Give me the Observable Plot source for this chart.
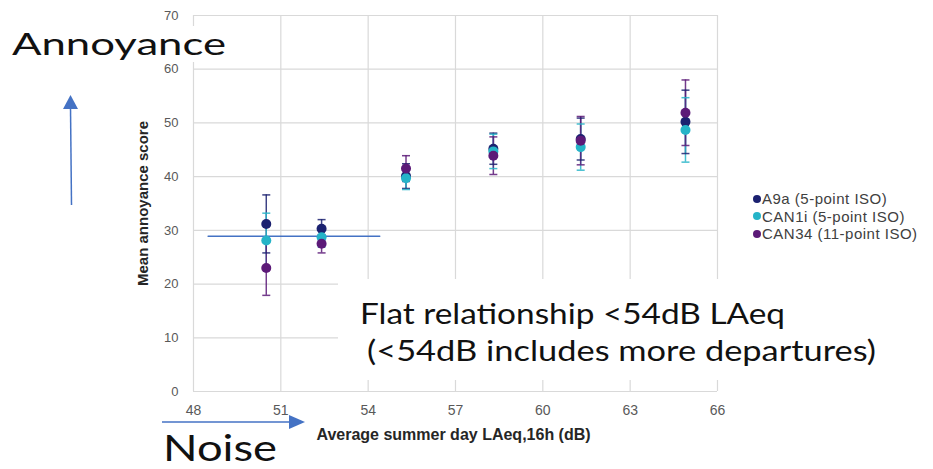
<!DOCTYPE html>
<html>
<head>
<meta charset="utf-8">
<script src="https://cdn.jsdelivr.net/npm/d3@7"></script>
<script src="https://cdn.jsdelivr.net/npm/@observablehq/plot@0.6"></script>
<style>
  html, body { margin: 0; padding: 0; background: #fff; }
  #wrap { position: relative; width: 933px; height: 469px; overflow: hidden; background: #fff; }
  #chart { position: absolute; left: 0; top: 0; }
  #legend { position: absolute; left: 753px; top: 190px; font-family: "Liberation Sans", Arial, sans-serif; font-size: 15px; letter-spacing: 0.5px; color: #404040; line-height: 17.5px; }
  #legend .row { white-space: nowrap; display: flex; align-items: center; }
  #legend .sw { display: inline-block; width: 8px; height: 8px; border-radius: 50%; margin-right: 1px; }
  #box { position: absolute; left: 338px; top: 279px; width: 570px; height: 101px; background: #fff; }
  #overlay { position: absolute; left: 0; top: 0; pointer-events: none; }
</style>
</head>
<body>
<div id="wrap">
  <div id="chart"></div>
  <div id="box"></div>
  <div id="legend"></div>
  <svg id="overlay" width="933" height="469"></svg>
</div>
<script>
// ---- data ----
const noiseLevels = [50.5, 52.4, 55.3, 58.3, 61.3, 64.9];
const seriesNames = ["A9a (5-point ISO)", "CAN1i (5-point ISO)", "CAN34 (11-point ISO)"];
const seriesColors = ["#1b2170", "#25b4c8", "#5c1a78"];
const a9aMean   = [31.2, 30.3, 40.1, 45.2, 47.0, 50.2];
const a9aErr    = [5.4, 1.7, 2.3, 2.9, 3.9, 5.9];
const can1iMean = [28.1, 28.7, 39.7, 44.7, 45.5, 48.7];
const can1iErr  = [5.1, 1.8, 2.1, 3.2, 4.3, 6.0];
const can34Mean = [23.0, 27.5, 41.5, 43.9, 46.7, 51.9];
const can34Err  = [5.1, 1.7, 2.4, 3.5, 4.5, 6.1];
const xTicks = [48, 51, 54, 57, 60, 63, 66];
const yTicks = [0, 10, 20, 30, 40, 50, 60, 70];
const flatLineX = [48.5, 54.4];
const flatLineY = 28.9;
const xTitle = "Average summer day LAeq,16h (dB)";
const yTitle = "Mean annoyance score";

// ---- build table ----
const means = [a9aMean, can1iMean, can34Mean];
const errs = [a9aErr, can1iErr, can34Err];
const rows = seriesNames.flatMap((s, i) => noiseLevels.map((x, j) => ({
  series: s, x, y: means[i][j], lo: means[i][j] - errs[i][j], hi: means[i][j] + errs[i][j]
})));
const caps = rows.flatMap(d => [{series: d.series, x: d.x, y: d.lo}, {series: d.series, x: d.x, y: d.hi}]);
const flatLine = flatLineX.map(x => ({x, y: flatLineY}));

const capSymbol = {
  draw(context, size) {
    const r = Math.sqrt(size / Math.PI);
    context.moveTo(-r, 0);
    context.lineTo(r, 0);
  }
};

const font = "Liberation Sans, Arial, sans-serif";
const chart = Plot.plot({
  width: 933,
  height: 469,
  marginLeft: 193,
  marginRight: 216,
  marginTop: 15,
  marginBottom: 78,
  style: { fontFamily: font, background: "transparent" },
  x: { domain: [48, 66], label: null },
  y: { domain: [0, 70], label: null },
  color: { domain: seriesNames, range: seriesColors },
  marks: [
    Plot.gridX(xTicks, { stroke: "#d9d9d9", strokeOpacity: 1, strokeWidth: 1.2 }),
    Plot.gridY(yTicks, { stroke: "#d9d9d9", strokeOpacity: 1, strokeWidth: 1.2 }),
    Plot.axisX({ ticks: xTicks, tickSize: 0, tickPadding: 14, fontSize: 14, fill: "#595959", label: null }),
    Plot.axisY({ ticks: yTicks, tickSize: 0, tickPadding: 15, fontSize: 13, fill: "#595959", label: null }),
    Plot.text([xTitle], { frameAnchor: "bottom", textAnchor: "middle", dy: 48, fontSize: 16, fontWeight: "bold", fill: "#262626", dx: -2 }),
    Plot.text([yTitle], { frameAnchor: "left", textAnchor: "middle", dx: -50, rotate: -90, fontSize: 15, fontWeight: "bold", fill: "#262626" }),
    Plot.line(flatLine, { x: "x", y: "y", stroke: "#4472c4", strokeWidth: 1.3 }),
    Plot.ruleX(rows, { x: "x", y1: "lo", y2: "hi", stroke: "series", strokeWidth: 1.5, strokeOpacity: 0.85 }),
    Plot.dot(caps, { x: "x", y: "y", symbol: capSymbol, r: 4, stroke: "series", fill: "none", strokeWidth: 1.5, strokeOpacity: 0.85 }),
    Plot.dot(rows, { x: "x", y: "y", fill: "series", r: 5, stroke: "none" })
  ]
});
document.getElementById("chart").appendChild(chart);

// ---- legend ----
const legend = document.getElementById("legend");
seriesNames.forEach((s, i) => {
  const row = document.createElement("div");
  row.className = "row";
  const sw = document.createElement("span");
  sw.className = "sw";
  sw.style.background = seriesColors[i];
  const t = document.createElement("span");
  t.textContent = s;
  row.appendChild(sw);
  row.appendChild(t);
  legend.appendChild(row);
});

// ---- slide annotations ----
const ov = d3.select("#overlay");
const blue = "#4472c4";
const annFont = "Lato, 'Open Sans', sans-serif";
ov.append("rect").attr("x", 6).attr("y", 26).attr("width", 226).attr("height", 36).attr("fill", "#fff");
ov.append("text").attr("x", 12).attr("y", 54.5).attr("font-family", annFont).attr("font-size", 31)
  .attr("textLength", 214).attr("lengthAdjust", "spacingAndGlyphs").attr("fill", "#111").text("Annoyance");
ov.append("text").attr("x", 163).attr("y", 461).attr("font-family", annFont).attr("font-size", 36)
  .attr("textLength", 114).attr("lengthAdjust", "spacingAndGlyphs").attr("fill", "#111").text("Noise");
ov.append("text").attr("x", 360).attr("y", 324).attr("font-family", annFont).attr("font-size", 28)
  .attr("textLength", 425).attr("lengthAdjust", "spacingAndGlyphs").attr("fill", "#111").text("Flat relationship <54dB LAeq");
ov.append("text").attr("x", 367).attr("y", 361).attr("font-family", annFont).attr("font-size", 28)
  .attr("textLength", 509).attr("lengthAdjust", "spacingAndGlyphs").attr("fill", "#111").text("(<54dB includes more departures)");
// vertical arrow
ov.append("line").attr("x1", 71.5).attr("y1", 205).attr("x2", 70.5).attr("y2", 107).attr("stroke", blue).attr("stroke-width", 1.5);
ov.append("path").attr("d", "M70.5,95 L63,109 L78,109 Z").attr("fill", blue);
// horizontal arrow
ov.append("line").attr("x1", 162).attr("y1", 422).attr("x2", 290).attr("y2", 422).attr("stroke", blue).attr("stroke-width", 1.5);
ov.append("path").attr("d", "M305,422 L289,415 L289,429 Z").attr("fill", blue);
</script>
</body>
</html>
